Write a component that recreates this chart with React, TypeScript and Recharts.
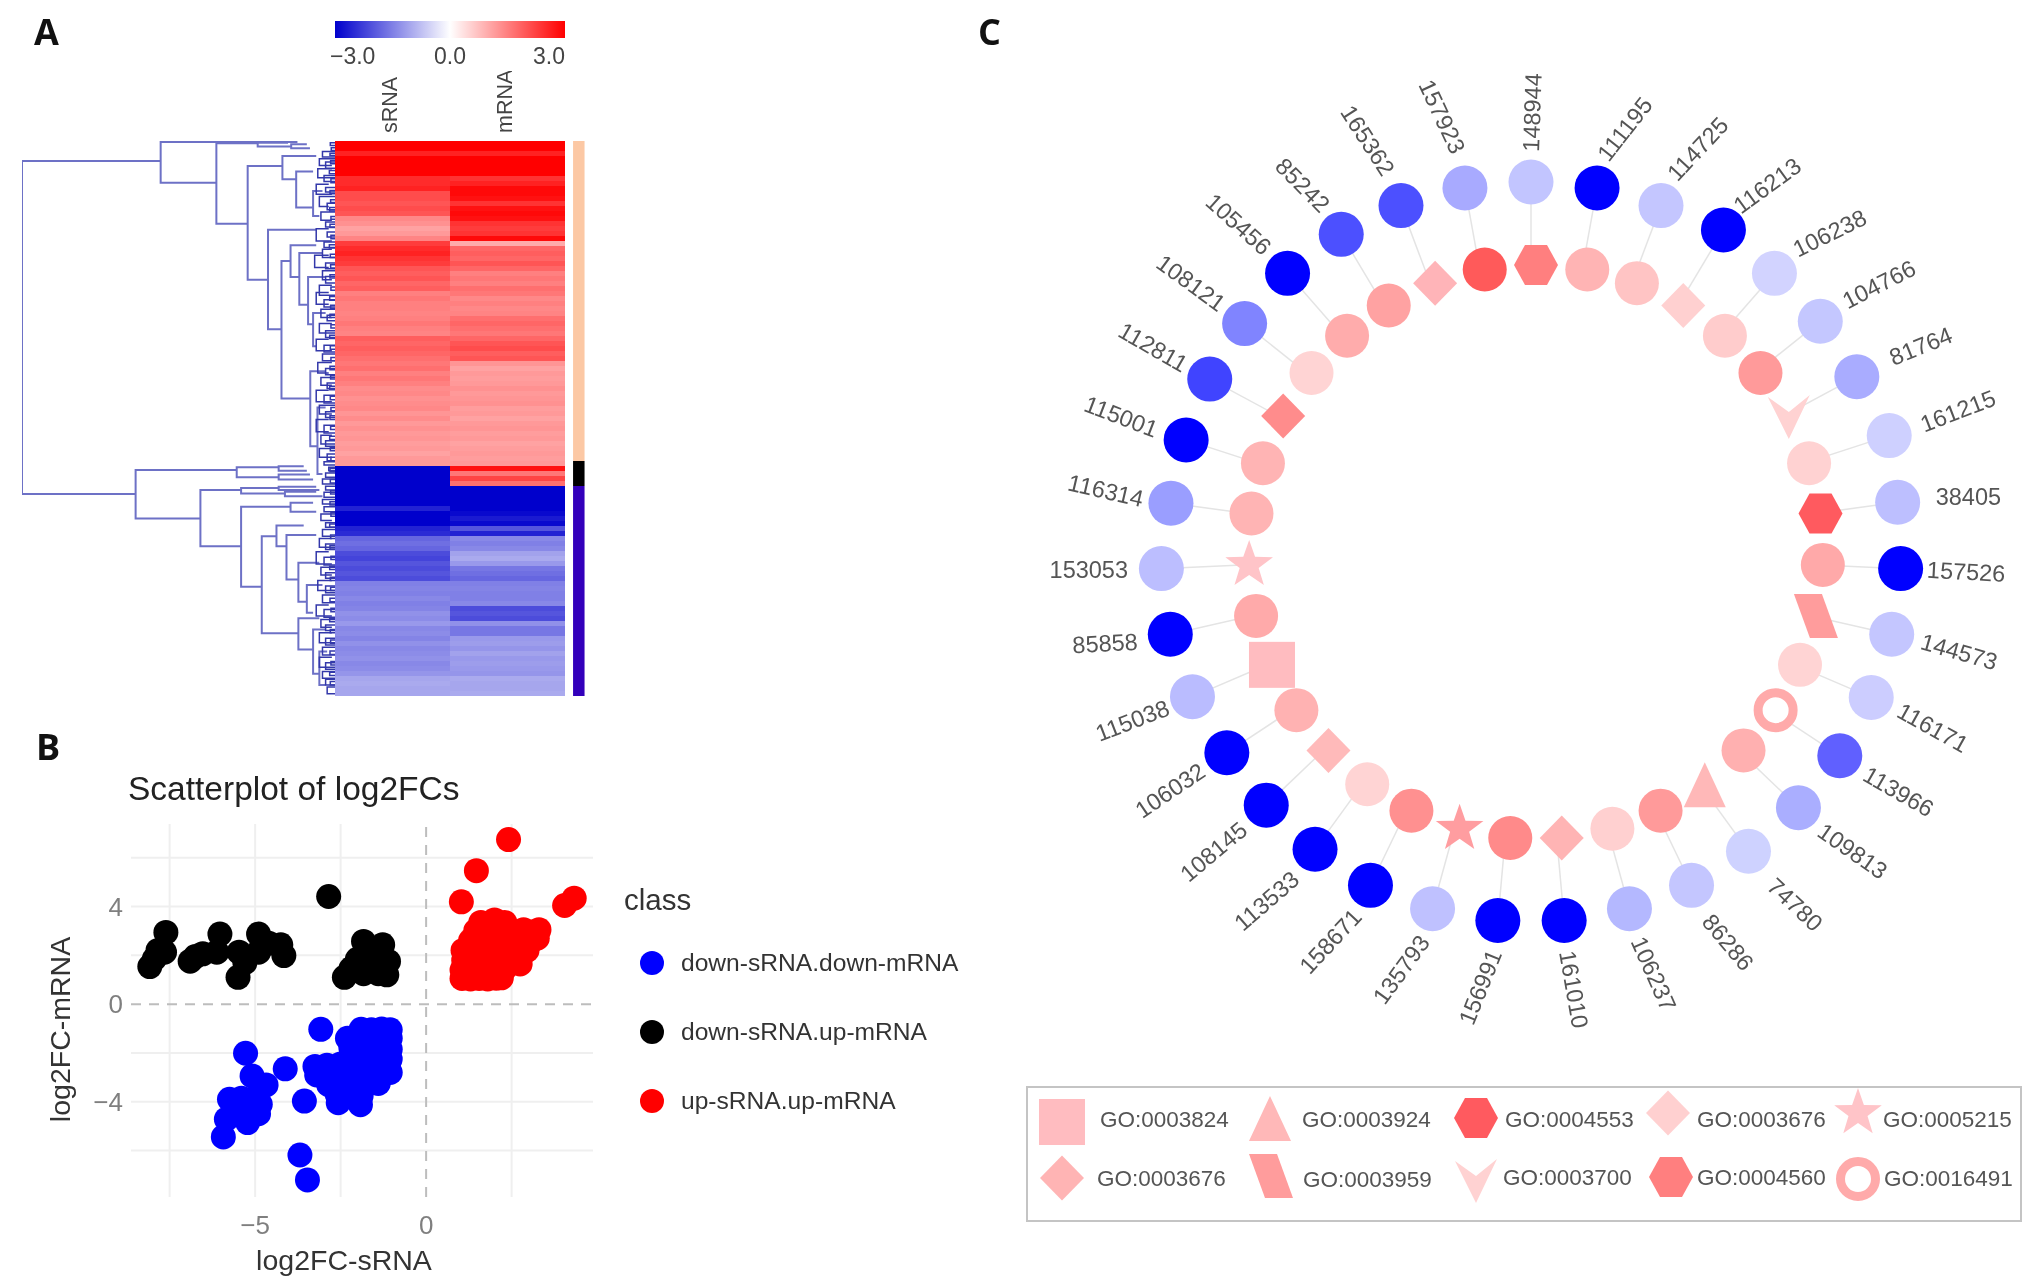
import {
  Bar,
  BarChart,
  Cell,
  PolarAngleAxis,
  PolarGrid,
  PolarRadiusAxis,
  Radar,
  RadarChart,
  ReferenceLine,
  Scatter,
  ScatterChart,
  XAxis,
  YAxis,
} from 'recharts';

const FONT = '"Liberation Sans", Arial, sans-serif';

// panel A: log2FC per row, top to bottom
const srnaValues = [
  3, 3, 2.6, 3, 3, 3, 3, 2.5, 2.5, 2.6, 2.1, 2.1, 2.0, 2.1, 2.0, 1.4, 1.3, 1.1, 1.2, 1.45,
  2.3, 2.5, 2.6, 2.4, 2.3, 2.0, 1.9, 2.0, 1.8, 1.9, 1.5, 1.6, 1.5, 1.5, 1.45, 1.5, 1.6, 1.5, 1.45,
  1.9, 1.8, 1.9, 1.8, 1.7, 1.6, 1.7, 1.5, 1.6, 1.5, 1.35, 1.4, 1.3, 1.35, 1.4, 1.25, 1.35, 1.2, 1.3,
  1.2, 1.25, 1.15, 1.2, 1.1, 1.2, 1.2,
  -3, -3, -3, -3,
  -3, -3, -3, -3, -2.6, -3, -3, -3, -2.6, -2.5, -1.8, -1.7, -1.8, -2.1, -2.2, -2.0, -2.1, -2.0, -2.1,
  -1.5, -1.45, -1.5, -1.4, -1.5, -1.45, -1.3, -1.35, -1.2, -1.4, -1.35, -1.45, -1.3, -1.4,
  -1.35, -1.3, -1.4, -1.35, -1.25, -1.05, -1.0, -1.05, -1.05,
];
const mrnaValues = [
  3, 3, 2.6, 3, 3, 3, 3, 2.4, 2.6, 2.9, 2.9, 2.8, 2.4, 2.8, 2.9, 2.8, 2.4, 2.3, 2.4, 2.9,
  1.0, 1.8, 1.9, 1.8, 2.0, 1.8, 1.5, 1.6, 1.5, 1.7, 1.6, 1.4, 1.5, 1.4, 1.45, 1.7, 1.8, 1.7, 1.6, 1.8,
  2.0, 2.1, 1.9, 2.0, 1.25, 1.1, 1.2, 1.15, 1.2, 1.3, 1.2, 1.25, 1.3,
  1.15, 1.2, 1.1, 1.2, 1.25, 1.15, 1.2, 1.1, 1.15, 1.2, 1.15, 1.2,
  2.8, 1.6, 2.2, 1.7,
  -3, -3, -3, -3, -3, -2.9, -2.7, -2.9, -2.0, -2.6, -1.4, -1.5, -1.4, -1.1, -1.0, -1.2, -1.6, -1.7, -1.8,
  -1.5, -1.45, -1.5, -1.5, -1.4, -2.1, -2.0, -2.1, -1.3, -1.6, -1.6,
  -1.2, -1.15, -1.25, -1.1, -1.2, -1.15, -1.2, -1.25, -1.0, -1.05, -1.05, -1.0,
];
const clusterSizes = [64, 5, 42];
const clusterColors = ['#fcc8a4', '#000000', '#3300bb'];
const columnNames = ['sRNA', 'mRNA'];
const colorbarTicks = [-3, 0, 3];

// dendrogram merges: [height, row A, height A, row B, height B] (row in % of the heatmap)
const branchMerges = [
  [100, 3.6, 55.7, 63.6, 63.7],
  [55.7, 0.2, 12, 7.5, 37.9],
  [37.9, 0.4, 24.7, 14.9, 27.9],
  [24.7, 0.3, 15, 1.0, 14],
  [14, 0.6, 9, 1.3, 8],
  [27.9, 4.5, 16.8, 25, 21.4],
  [16.8, 2.7, 6, 6.9, 12.4],
  [12.4, 5.5, 7, 12, 7],
  [7, 9, 4, 13.5, 5],
  [21.4, 16, 6, 33.9, 17.1],
  [17.1, 21.6, 14.2, 46.4, 7.9],
  [14.2, 18.8, 6, 24.5, 11.4],
  [11.4, 20.2, 4, 29.5, 8.6],
  [8.6, 24.5, 3, 33, 7],
  [7, 31, 3, 37, 6],
  [7.9, 41.5, 3, 55, 5.6],
  [5.6, 48, 3, 60, 4],
  [63.7, 59.3, 31.4, 68, 43],
  [31.4, 58.8, 18, 60.6, 18],
  [18, 58.6, 10, 59.4, 9],
  [18, 60.1, 8, 61, 7],
  [43, 62.9, 30, 73, 30],
  [30, 62.5, 18, 63.5, 16],
  [18, 62.3, 6, 62.9, 5],
  [16, 63.2, 6, 64, 4],
  [30, 65.9, 14.2, 80.3, 23.4],
  [14.2, 65.2, 7, 66.8, 6],
  [23.4, 71.2, 18.7, 88.7, 11.7],
  [18.7, 69.3, 10, 73, 15.5],
  [15.5, 71, 6, 79, 11.7],
  [11.7, 76, 5, 83, 9],
  [9, 80, 4, 85, 7],
  [11.7, 86, 5, 91.6, 7],
  [7, 88, 3, 96, 5],
  [5, 92, 2.5, 98, 3],
];
const twigMerges = [
  [4, 1.9, 0, 2.9, 0], [5, 3.2, 0, 4.4, 1], [3, 3.8, 0, 4.9, 0], [5.5, 5, 1, 6.6, 0], [3.5, 6.2, 0, 7.3, 0],
  [6, 7.8, 2, 9.6, 1], [3, 8.4, 0, 9.2, 0], [5, 10, 0, 11.8, 2], [2.5, 11.2, 0, 12.4, 0], [4.5, 12.8, 0, 14.3, 1],
  [3, 14.6, 0, 15.5, 0], [6, 15.8, 2, 18, 1], [2.5, 16.4, 0, 17.3, 0], [3.5, 18.2, 0, 19.2, 0], [4, 19.5, 1, 21, 0],
  [6.5, 20.6, 2, 22.8, 2], [3, 22, 0, 23, 0], [4, 23.4, 0, 25, 1], [3, 24.4, 0, 25.6, 0], [5, 26, 1, 27.8, 0],
  [6, 27.3, 2, 29.4, 2], [3.5, 28.6, 0, 29.9, 0], [4.5, 30.3, 0, 31.8, 1], [2.5, 31.4, 0, 32.4, 0], [5, 32.9, 1, 34.6, 0],
  [3, 34.2, 0, 35.4, 0], [6, 35.7, 2, 37.8, 1], [3.5, 36.8, 0, 38, 0], [4, 38.4, 0, 39.6, 0], [5.5, 39.9, 1, 41.8, 2],
  [3, 41, 0, 42.1, 0], [4.5, 42.6, 0, 44, 1], [2.5, 43.6, 0, 44.6, 0], [6, 44.9, 2, 47, 1], [3.5, 45.8, 0, 47.2, 0],
  [5, 47.6, 0, 49.2, 1], [3, 48.8, 0, 49.8, 0], [6, 50.2, 2, 52.4, 2], [3.5, 51.2, 0, 52.6, 0], [4.5, 53, 1, 54.6, 0],
  [3, 54, 0, 55, 0], [5, 55.4, 0, 57, 1], [2.5, 56.4, 0, 57.6, 0], [3.5, 57.8, 0, 58.4, 0],
  [2, 58.8, 0, 59.4, 0], [3, 59.8, 0, 60.6, 0], [4, 60.9, 0, 61.8, 0], [3, 62.2, 0, 62.9, 0], [3.5, 63.3, 0, 64.2, 0],
  [4, 64.6, 0, 65.4, 0], [3.5, 65.9, 0, 66.8, 0], [4.5, 67.2, 0, 68.4, 1], [3, 68.8, 0, 69.6, 0], [4, 70, 0, 71.2, 0],
  [5, 71.6, 1, 73.2, 0], [3, 72.6, 0, 73.6, 0], [6, 74, 2, 76.2, 1], [3.5, 75, 0, 76.4, 0], [4.5, 76.8, 0, 78.2, 1],
  [3, 77.8, 0, 78.8, 0], [5.5, 79.2, 1, 81, 0], [3, 80.2, 0, 81.4, 0], [4, 81.8, 0, 83.2, 0], [6, 83.6, 2, 85.6, 1],
  [3.5, 84.4, 0, 85.8, 0], [4.5, 86.2, 0, 87.6, 1], [3, 87.2, 0, 88.2, 0], [5, 88.6, 1, 90.4, 0], [3, 89.6, 0, 90.8, 0],
  [4, 91.2, 0, 92.6, 0], [5, 93, 1, 94.8, 0], [3, 94, 0, 95.2, 0], [4, 95.6, 0, 96.8, 0], [3, 97, 0, 98, 0], [2.5, 98.4, 0, 99.6, 0],
  // leaf pairs right at the heatmap edge
  [1.5, 0.3, 0, 0.8, 0], [1.2, 1.2, 0, 1.7, 0], [1.6, 2.2, 0, 2.6, 0], [1.4, 3.5, 0, 4.1, 0], [1.8, 5.3, 0, 5.9, 0],
  [1.3, 6.8, 0, 7.5, 0], [1.6, 8.9, 0, 9.5, 0], [1.4, 10.6, 0, 11.1, 0], [1.7, 12, 0, 12.6, 0], [1.3, 13.6, 0, 14.1, 0],
  [1.6, 15, 0, 15.6, 0], [1.3, 17, 0, 17.6, 0], [1.8, 18.7, 0, 19.3, 0], [1.5, 20.4, 0, 21, 0], [1.4, 22.3, 0, 22.9, 0],
  [1.6, 24.1, 0, 24.7, 0], [1.3, 26.3, 0, 26.9, 0], [1.7, 28, 0, 28.7, 0], [1.4, 29.6, 0, 30.2, 0], [1.6, 31.2, 0, 31.8, 0],
  [1.3, 33.1, 0, 33.7, 0], [1.7, 35, 0, 35.6, 0], [1.5, 36.9, 0, 37.5, 0], [1.3, 39, 0, 39.6, 0], [1.6, 40.6, 0, 41.2, 0],
  [1.4, 42.3, 0, 42.9, 0], [1.7, 44.2, 0, 44.8, 0], [1.5, 46, 0, 46.6, 0], [1.3, 48, 0, 48.6, 0], [1.6, 49.5, 0, 50.2, 0],
  [1.4, 51.4, 0, 52, 0], [1.7, 53.2, 0, 53.8, 0], [1.5, 55.2, 0, 55.8, 0], [1.3, 57, 0, 57.6, 0], [1.6, 59, 0, 59.6, 0],
  [1.5, 61, 0, 61.6, 0], [1.4, 63, 0, 63.6, 0], [1.6, 65, 0, 65.6, 0], [1.3, 67, 0, 67.6, 0], [1.7, 69, 0, 69.6, 0],
  [1.4, 71, 0, 71.6, 0], [1.6, 72.9, 0, 73.5, 0], [1.3, 74.8, 0, 75.4, 0], [1.7, 76.6, 0, 77.2, 0], [1.5, 78.6, 0, 79.2, 0],
  [1.4, 80.4, 0, 81, 0], [1.6, 82.4, 0, 83, 0], [1.3, 84.2, 0, 84.8, 0], [1.7, 86, 0, 86.6, 0], [1.5, 88, 0, 88.6, 0],
  [1.4, 89.9, 0, 90.5, 0], [1.6, 91.9, 0, 92.5, 0], [1.3, 93.8, 0, 94.4, 0], [1.7, 95.7, 0, 96.3, 0], [1.5, 97.4, 0, 98, 0],
];

// panel B: [log2FC-sRNA, log2FC-mRNA]
const blackPoints = [
  [-8.08, 1.54], [-7.84, 2.2], [-7.61, 2.94], [-7.65, 2.13], [-6.9, 1.76], [-6.53, 2.06], [-6.03, 2.87], [-6.12, 2.13],
  [-5.47, 2.13], [-5.5, 1.1], [-4.9, 2.87], [-4.9, 2.13], [-4.25, 2.43], [-4.16, 1.99], [-2.85, 4.41], [-2.39, 1.1],
  [-1.83, 1.25], [-2.01, 1.84], [-1.83, 2.57], [-1.27, 2.43], [-2.2, 1.45], [-1.45, 2.05], [-1.1, 1.75], [-1.15, 1.2],
  [-1.4, 1.25], [-1.75, 2.1], [-6.75, 1.95], [-5.3, 1.7], [-4.6, 2.5], [-7.95, 1.85],
];
const bluePoints = [
  [-5.28, -2.01], [-4.12, -2.65], [-5.09, -2.94], [-4.68, -3.31], [-5.75, -3.9], [-5.4, -3.85], [-4.9, -4.49], [-5.22, -4.85],
  [-5.84, -4.71], [-5.93, -5.44], [-3.69, -6.18], [-3.47, -7.2], [-3.56, -3.97], [-3.08, -1.03], [-2.57, -4.04], [-1.92, -4.12],
  [-5.1, -3.9], [-4.85, -4.1], [-5.6, -4.4],
  [-1.9, -1.03], [-1.6, -1.05], [-1.3, -1.02], [-1.05, -1.05], [-2.3, -1.4], [-2.0, -1.4], [-1.7, -1.35], [-1.4, -1.45], [-1.05, -1.4],
  [-2.2, -1.8], [-1.9, -1.85], [-1.6, -1.75], [-1.3, -1.8], [-1.05, -1.85], [-2.1, -2.2], [-1.8, -2.15], [-1.45, -2.2], [-1.05, -2.25],
  [-3.25, -2.55], [-2.9, -2.5], [-2.5, -2.45], [-2.2, -2.5], [-1.9, -2.55], [-1.5, -2.5], [-1.1, -2.55],
  [-3.2, -2.9], [-2.8, -2.95], [-2.45, -2.9], [-2.1, -2.85], [-1.75, -2.95], [-1.35, -2.9], [-1.05, -2.8],
  [-2.85, -3.3], [-2.5, -3.35], [-2.1, -3.25], [-1.75, -3.3], [-1.4, -3.25], [-2.6, -3.7], [-2.2, -3.65], [-1.9, -3.75],
];
const redPoints = [
  [2.41, 6.74], [1.47, 5.47], [1.03, 4.19], [4.05, 4.04], [4.33, 4.34],
  [1.05, 1.05], [1.3, 1.03], [1.55, 1.05], [1.8, 1.03], [2.05, 1.06], [2.2, 1.08],
  [1.05, 1.4], [1.35, 1.42], [1.7, 1.38], [2.0, 1.4], [2.3, 1.45],
  [1.1, 1.8], [1.4, 1.75], [1.75, 1.82], [2.1, 1.78], [2.45, 1.72], [2.75, 1.65],
  [1.08, 2.2], [1.4, 2.15], [1.8, 2.22], [2.15, 2.2], [2.5, 2.18], [2.95, 2.2],
  [1.3, 2.6], [1.6, 2.55], [1.95, 2.62], [2.3, 2.6], [2.7, 2.58], [3.05, 2.55], [3.25, 2.7],
  [1.45, 3.0], [1.8, 3.02], [2.1, 2.98], [2.5, 3.0], [2.85, 3.05], [3.3, 3.05],
  [1.6, 3.35], [2.0, 3.45], [2.3, 3.35],
];
const xTicksB = [-7.5, -5, -2.5, 0, 2.5];
const yTicksB = [-6, -4, -2, 0, 2, 4, 6];
const xLabelledB = [-5, 0];
const yLabelledB = [-4, 0, 4];
const classNames = ['down-sRNA.down-mRNA', 'down-sRNA.up-mRNA', 'up-sRNA.up-mRNA'];
const classColors = ['#0000ff', '#000000', '#ff0000'];

// panel C: clockwise from the top
const geneIds = [
  '148944', '111195', '114725', '116213', '106238', '104766', '81764', '161215', '38405', '157526', '144573', '116171',
  '113966', '109813', '74780', '86286', '106237', '161010', '156991', '135793', '158671', '113533', '108145', '106032',
  '115038', '85858', '153053', '116314', '115001', '112811', '108121', '105456', '85242', '165362', '157923',
];
// distance of each gene node from the ring centre, % of the ring radius
const geneRadial = [
  100, 100, 100, 101.4, 100, 100, 100, 101.8, 100, 100, 100, 100,
  100, 100, 100, 100, 100, 100, 100, 100, 100, 99.3, 99, 98.5,
  99.5, 100, 100, 98.2, 98, 98.6, 99, 100, 100, 100, 100,
];
const geneLabelAngles = [
  -88, -52, -47, -36, -26, -27, -22, -21, 0, 3, 16, 29,
  30, 35, 43, 50, 66, 80, -68, -54, -47, -41, -40, -34,
  -21, -3, 0, 13, 21, 30, 36, 42, 45, 57, 65,
];
// distance from the outer node to its label
const geneLabelGaps = [
  15, 15, 15, 15, 15, 15, 23, 25, 23, 11, 15, 15,
  15, 15, 23, 20, 15, 15, 15, 15, 15, 15, 12, 8,
  9, 18, 18, 6, 8, 7, 9, 15, 15, 19, 21,
];
const geneColors = [
  '#c2c5ff', '#0000ff', '#c4c6ff', '#0000ff', '#d2d3ff', '#c4c7ff', '#a9acff', '#ced0ff', '#bdbfff', '#0000ff', '#c4c6ff', '#cccdff',
  '#6060ff', '#aaaeff', '#ced2ff', '#c4c6ff', '#b4b8ff', '#0000ff', '#0000ff', '#bfc1ff', '#0000ff', '#0000ff', '#0000ff', '#0000ff',
  '#babcff', '#0000ff', '#bcbeff', '#9a9eff', '#0000ff', '#4044ff', '#8084ff', '#0000ff', '#4c50ff', '#4c50ff', '#a8aaff',
];
const hubColors = [
  '#ff7f7f', '#ffb4b4', '#ffc4c4', '#ffd0d0', '#ffcccc', '#ff9a9a', '#ffd2d2', '#ffd2d2', '#ff5a5f', '#ffa9a9', '#ff9c9c', '#ffd4d4',
  '#ffaaaa', '#ffb0b0', '#ffb8b8', '#ff9a9a', '#ffd0d0', '#ffb4b4', '#ff8a8a', '#ff9da0', '#ff9090', '#ffd4d4', '#ffbaba', '#ffb2b2',
  '#ffbcc0', '#ffaaaa', '#ffc4c8', '#ffb4b4', '#ffb4b4', '#ff8c8c', '#ffd4d4', '#ffacac', '#ffa2a2', '#ffb4b8', '#ff5a5a',
];
const hubShapes = [
  'hexagon', 'circle', 'circle', 'diamond', 'circle', 'circle', 'vee', 'circle', 'hexagon', 'circle', 'slant', 'circle',
  'ring', 'circle', 'triangle', 'circle', 'circle', 'diamond', 'circle', 'star', 'circle', 'circle', 'diamond', 'circle',
  'square', 'circle', 'star', 'circle', 'circle', 'diamond', 'circle', 'circle', 'circle', 'diamond', 'circle',
];
const goTerms = [
  'GO:0003824', 'GO:0003924', 'GO:0004553', 'GO:0003676', 'GO:0005215',
  'GO:0003676', 'GO:0003959', 'GO:0003700', 'GO:0004560', 'GO:0016491',
];
const goShapes = ['square', 'triangle', 'hexagon', 'diamond', 'star', 'diamond', 'slant', 'vee', 'hexagon', 'ring'];
const goColors = ['#ffbcc0', '#ffb8b8', '#ff5a5f', '#ffd0d0', '#ffc4c8', '#ffb4b4', '#ff9c9c', '#ffd2d2', '#ff7f7f', '#ffaaaa'];

const heatColor = (v: number) => {
  const t = Math.min(Math.abs(v) / 3, 1);
  const mix = (from: number, to: number) => Math.round(from + (to - from) * t);
  return v >= 0
    ? `rgb(255,${mix(255, 0)},${mix(255, 0)})`
    : `rgb(${mix(255, 0)},${mix(255, 0)},${mix(255, 204)})`;
};

const sideColors = clusterSizes.flatMap((n, i) => Array(n).fill(clusterColors[i]));
const heatRows = srnaValues.map((_, i) => ({ row: i, srna: 1, mrna: 1, gap: 0.07, side: 0.1 }));
const toXY = (pts: number[][]) => pts.map(([x, y]) => ({ x, y }));
const mergePath = ([h, ra, ha, rb, hb]: number[]) => [
  { h: ha, r: ra },
  { h, r: ra },
  { h, r: rb },
  { h: hb, r: rb },
];
const geneRows = geneIds.map((id, i) => ({ id, gene: geneRadial[i], hub: 77.6 }));

function Glyph({ shape, fill, x = 0, y = 0 }: { shape: string; fill: string; x?: number; y?: number }) {
  const t = `translate(${x},${y})`;
  switch (shape) {
    case 'diamond':
      return <path transform={t} fill={fill} d="M0,-22.5L22,0L0,22.5L-22,0Z" />;
    case 'hexagon':
      return <path transform={t} fill={fill} d="M-11,-20L11,-20L22,0L11,20L-11,20L-22,0Z" />;
    case 'square':
      return <rect transform={t} fill={fill} x={-23} y={-23} width={46} height={46} />;
    case 'triangle':
      return <path transform={t} fill={fill} d="M0,-22L21,23L-21,23Z" />;
    case 'slant':
      return <path transform={t} fill={fill} d="M-22,-22L6,-22L22,22L-6,22Z" />;
    case 'vee':
      return <path transform={t} fill={fill} d="M-21,-19L0,-4L21,-21L0,23Z" />;
    case 'star':
      return (
        <path
          transform={t}
          fill={fill}
          d="M0,-25L5.9,-8.1L23.8,-7.7L9.5,3.1L14.7,20.2L0,10L-14.7,20.2L-9.5,3.1L-23.8,-7.7L-5.9,-8.1Z"
        />
      );
    case 'ring':
      return <circle transform={t} fill="#ffffff" stroke={fill} strokeWidth={9} r={17.5} />;
    default:
      return <circle transform={t} fill={fill} r={22} />;
  }
}

function GeneTick({ x, y, payload, index }: any) {
  const rad = (payload.coordinate * Math.PI) / 180;
  const gap = geneLabelGaps[index];
  const px = x + gap * Math.cos(rad);
  const py = y - gap * Math.sin(rad);
  const right = Math.cos(rad) >= -1e-6;
  return (
    <text
      x={px}
      y={py}
      fill="#555555"
      fontSize={23.5}
      fontFamily={FONT}
      dominantBaseline="central"
      textAnchor={right ? 'start' : 'end'}
      transform={`rotate(${geneLabelAngles[index]},${px},${py})`}
    >
      {payload.value}
    </text>
  );
}

const big = (p: any) => <circle cx={p.cx} cy={p.cy} r={12.5} fill={p.fill} />;
const noDot = () => <g />;

const text = (style: any) => ({ position: 'absolute', fontFamily: FONT, whiteSpace: 'nowrap', ...style });

function ColorbarTick({ x, y, payload }: any) {
  const v = payload.value;
  const label = v === 0 ? '0.0' : v < 0 ? '\u22123.0' : '3.0';
  const anchor = v < 0 ? 'start' : v > 0 ? 'end' : 'middle';
  return (
    <text x={v < 0 ? x - 5 : x} y={y + 18} fill="#444444" fontSize={23} fontFamily={FONT} textAnchor={anchor}>
      {label}
    </text>
  );
}

function ColumnTick({ x, y, payload }: any) {
  const tx = x - 3;
  return (
    <text
      x={tx}
      y={y}
      fill="#444444"
      fontSize={21.5}
      fontFamily={FONT}
      textAnchor="start"
      dominantBaseline="central"
      transform={`rotate(-90,${tx},${y})`}
    >
      {columnNames[Math.floor(payload.value)]}
    </text>
  );
}

export default function App() {
  return (
    <div
      style={{
        position: 'absolute',
        left: 0,
        top: 0,
        width: 2029,
        height: 1287,
        overflow: 'hidden',
        background: '#ffffff',
        filter: 'blur(0.7px)',
      }}
    >
      <div style={text({ left: 34, top: 7, fontSize: 36, fontWeight: 700, fontFamily: '"Open Sans"', color: '#111' })}>A</div>
      <div style={text({ left: 36, top: 722, fontSize: 36, fontWeight: 700, fontFamily: '"Open Sans"', color: '#111' })}>B</div>
      <div style={text({ left: 978, top: 7, fontSize: 36, fontWeight: 700, fontFamily: '"Open Sans"', color: '#111' })}>C</div>

      {/* colour key */}
      <div style={{ position: 'absolute', left: 323, top: 21 }}>
        <BarChart
          width={242}
          height={57}
          layout="vertical"
          data={[{ key: 'key', range: [-3, 3] }]}
          margin={{ top: 0, right: 0, bottom: 0, left: 12 }}
          barCategoryGap={0}
        >
          <defs>
            <linearGradient id="heatKey" x1="0" x2="1" y1="0" y2="0">
              <stop offset="0%" stopColor={heatColor(-3)} />
              <stop offset="50%" stopColor="#ffffff" />
              <stop offset="100%" stopColor={heatColor(3)} />
            </linearGradient>
          </defs>
          <XAxis type="number" domain={[-3, 3]} ticks={colorbarTicks} height={40} axisLine={false} tickLine={false} tick={ColorbarTick} interval={0} />
          <YAxis type="category" dataKey="key" hide />
          <Bar dataKey="range" fill="url(#heatKey)" isAnimationActive={false} />
        </BarChart>
      </div>

      {/* dendrogram */}
      <div style={{ position: 'absolute', left: 22, top: 141 }}>
        <ScatterChart width={313} height={555} margin={{ top: 0, right: 0, bottom: 0, left: 0 }}>
          <XAxis type="number" dataKey="h" domain={[0, 100]} reversed hide />
          <YAxis type="number" dataKey="r" domain={[0, 100]} reversed hide />
          {branchMerges.map((m, i) => (
            <Scatter key={`b${i}`} data={mergePath(m)} line={{ stroke: '#6d71c6', strokeWidth: 2 }} shape={noDot} isAnimationActive={false} />
          ))}
          {twigMerges.map((m, i) => (
            <Scatter key={`t${i}`} data={mergePath(m)} line={{ stroke: '#3338aa', strokeWidth: 1.5 }} shape={noDot} isAnimationActive={false} />
          ))}
        </ScatterChart>
      </div>

      {/* heatmap with the cluster strip */}
      <div style={{ position: 'absolute', left: 335, top: 71 }}>
        <BarChart
          width={250}
          height={625}
          layout="vertical"
          data={heatRows}
          margin={{ top: 0, right: 0, bottom: 0, left: 0 }}
          barCategoryGap={0}
        >
          <XAxis type="number" orientation="top" domain={[0, 2.1739]} ticks={[0.5, 1.5]} height={70} axisLine={false} tickLine={false} tick={ColumnTick} interval={0} />
          <YAxis type="category" dataKey="row" hide />
          <Bar dataKey="srna" stackId="h" isAnimationActive={false}>
            {srnaValues.map((v, i) => (
              <Cell key={i} fill={heatColor(v)} />
            ))}
          </Bar>
          <Bar dataKey="mrna" stackId="h" isAnimationActive={false}>
            {mrnaValues.map((v, i) => (
              <Cell key={i} fill={heatColor(v)} />
            ))}
          </Bar>
          <Bar dataKey="gap" stackId="h" fill="none" isAnimationActive={false} />
          <Bar dataKey="side" stackId="h" isAnimationActive={false}>
            {sideColors.map((c, i) => (
              <Cell key={i} fill={c} />
            ))}
          </Bar>
        </BarChart>
      </div>

      {/* panel B */}
      <div style={text({ left: 128, top: 770, fontSize: 33.5, color: '#222' })}>Scatterplot of log2FCs</div>
      <div style={{ position: 'absolute', left: 0, top: 760 }}>
        <ScatterChart width={1000} height={527} margin={{ top: 64, right: 407, bottom: 0, left: 41 }}>
          <XAxis
            type="number"
            dataKey="x"
            domain={[-8.63, 4.88]}
            ticks={xTicksB}
            interval={0}
            height={90}
            axisLine={false}
            tickLine={false}
            tickMargin={13}
            tick={{ fill: '#7f7f7f', fontSize: 26, fontFamily: FONT }}
            tickFormatter={(v: number) => (xLabelledB.includes(v) ? String(v).replace('-', '\u2212') : '')}
            label={{ value: 'log2FC-sRNA', position: 'insideBottom', offset: 17, dx: -18, fill: '#333333', fontSize: 28.5, fontFamily: FONT }}
          />
          <YAxis
            type="number"
            dataKey="y"
            domain={[-7.9, 7.38]}
            ticks={yTicksB}
            interval={0}
            width={90}
            axisLine={false}
            tickLine={false}
            tick={{ fill: '#7f7f7f', fontSize: 26, fontFamily: FONT }}
            tickFormatter={(v: number) => (yLabelledB.includes(v) ? String(v).replace('-', '\u2212') : '')}
            label={{ value: 'log2FC-mRNA', angle: -90, position: 'center', dx: -26, dy: 19, fill: '#333333', fontSize: 28.5, fontFamily: FONT }}
          />
          {xTicksB.filter((v) => v !== 0).map((v) => (
            <ReferenceLine key={`gx${v}`} x={v} stroke="#efefef" strokeWidth={2} />
          ))}
          {yTicksB.filter((v) => v !== 0).map((v) => (
            <ReferenceLine key={`gy${v}`} y={v} stroke="#efefef" strokeWidth={2} />
          ))}
          <ReferenceLine x={0} stroke="#bdbdbd" strokeWidth={2} strokeDasharray="10 8" />
          <ReferenceLine y={0} stroke="#bdbdbd" strokeWidth={2} strokeDasharray="10 8" />
          <Scatter data={toXY(blackPoints)} fill={classColors[1]} shape={big} isAnimationActive={false} />
          <Scatter data={toXY(bluePoints)} fill={classColors[0]} shape={big} isAnimationActive={false} />
          <Scatter data={toXY(redPoints)} fill={classColors[2]} shape={big} isAnimationActive={false} />
        </ScatterChart>
      </div>
      <div style={text({ left: 624, top: 883, fontSize: 29.5, color: '#333' })}>class</div>
      {classNames.map((name, i) => (
        <div key={name}>
          <div
            style={{
              position: 'absolute',
              left: 640,
              top: 951 + i * 69,
              width: 24,
              height: 24,
              borderRadius: 12,
              background: classColors[i],
            }}
          />
          <div style={text({ left: 681, top: 949 + i * 69, fontSize: 24.6, color: '#333' })}>{name}</div>
        </div>
      ))}

      {/* panel C: gene ring with labels and links */}
      <div style={{ position: 'absolute', left: 1031, top: 52 }}>
        <RadarChart width={1000} height={1000} data={geneRows} outerRadius={377.4} margin={{ top: 0, right: 0, bottom: 0, left: 0 }}>
          <PolarGrid gridType="polygon" radialLines polarRadius={[]} stroke="#e4e4e4" strokeWidth={1.5} />
          <PolarAngleAxis dataKey="id" axisLine={false} tickLine={false} tick={GeneTick} />
          <PolarRadiusAxis domain={[0, 102]} axisLine={false} tick={false} />
          <Radar
            dataKey="gene"
            stroke="none"
            fill="none"
            isAnimationActive={false}
            dot={(p: any) => <circle key={p.index} cx={p.cx} cy={p.cy} r={22.5} fill={geneColors[p.index]} />}
          />
        </RadarChart>
      </div>
      {/* hub ring sits a little right of the gene ring in the figure */}
      <div style={{ position: 'absolute', left: 1036, top: 52 }}>
        <RadarChart width={1000} height={1000} data={geneRows} outerRadius={370} margin={{ top: 0, right: 0, bottom: 0, left: 0 }}>
          <PolarAngleAxis dataKey="id" axisLine={false} tickLine={false} tick={false} />
          <PolarRadiusAxis domain={[0, 100]} axisLine={false} tick={false} />
          <Radar
            dataKey="hub"
            stroke="none"
            fill="#ffffff"
            fillOpacity={1}
            isAnimationActive={false}
            dot={(p: any) => <Glyph key={p.index} x={p.cx} y={p.cy} shape={hubShapes[p.index]} fill={hubColors[p.index]} />}
          />
        </RadarChart>
      </div>

      {/* GO legend */}
      <div style={{ position: 'absolute', left: 1026, top: 1086, width: 992, height: 132, border: '2px solid #c4c4c4' }} />
      {goTerms.map((term, i) => {
        const iconX = [1062, 1270, 1476, 1668, 1858, 1062, 1271, 1476, 1671, 1858][i];
        const iconY = [1122, 1118, 1118, 1113, 1113, 1178, 1176, 1180, 1177, 1179][i];
        const labelX = [1100, 1302, 1505, 1697, 1883, 1097, 1303, 1503, 1697, 1884][i];
        const labelY = [1120, 1120, 1120, 1120, 1120, 1179, 1180, 1178, 1178, 1179][i];
        return (
          <div key={i}>
            <svg style={{ position: 'absolute', left: iconX - 30, top: iconY - 30 }} width={60} height={60}>
              <Glyph x={30} y={30} shape={goShapes[i]} fill={goColors[i]} />
            </svg>
            <div style={text({ left: labelX, top: labelY - 13, fontSize: 22.5, color: '#555' })}>{term}</div>
          </div>
        );
      })}
    </div>
  );
}
